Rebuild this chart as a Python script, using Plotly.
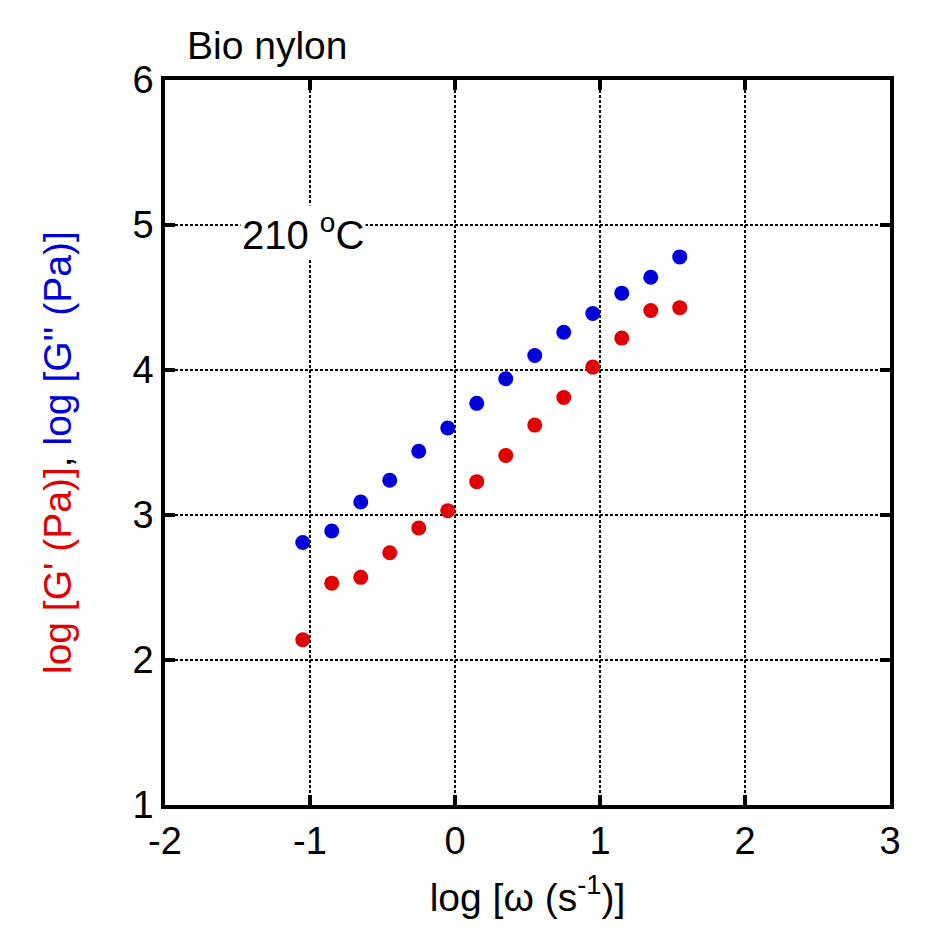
import plotly.graph_objects as go

log_omega = [-1.05, -0.85, -0.65, -0.45, -0.25, -0.05, 0.15, 0.35, 0.55, 0.75, 0.95, 1.15, 1.35, 1.55]
log_Gp = [2.14, 2.53, 2.57, 2.74, 2.91, 3.03, 3.23, 3.41, 3.62, 3.81, 4.02, 4.22, 4.41, 4.43]
log_Gpp = [2.81, 2.89, 3.09, 3.24, 3.44, 3.60, 3.77, 3.94, 4.10, 4.26, 4.39, 4.53, 4.64, 4.78]

x_ticks = [-2, -1, 0, 1, 2, 3]
y_ticks = [1, 2, 3, 4, 5, 6]

RED = "#e00000"
BLUE = "#0000d8"
FONT = "Liberation Sans, Arial, sans-serif"

fig = go.Figure()
fig.add_trace(go.Scatter(x=log_omega, y=log_Gpp, mode="markers",
                         marker=dict(color=BLUE, size=15), name="G''"))
fig.add_trace(go.Scatter(x=log_omega, y=log_Gp, mode="markers",
                         marker=dict(color=RED, size=15), name="G'"))

axis_common = dict(
    showline=True, linecolor="black", linewidth=3.5, mirror="allticks",
    ticks="inside", ticklen=10, tickwidth=3.5, tickcolor="black",
    showgrid=True, gridcolor="black", gridwidth=1.6, griddash="3px,2px",
    zeroline=False, tickfont=dict(family=FONT, size=38, color="black"),
)

fig.update_xaxes(range=[-2, 3], tickvals=x_ticks, ticktext=[str(v) for v in x_ticks],
                 title=dict(text="log [ω (s<sup>-1</sup>)]", font=dict(family=FONT, size=39, color="black"),
                            standoff=23),
                 **axis_common)
fig.update_yaxes(range=[1, 6], tickvals=y_ticks, ticktext=[str(v) for v in y_ticks],
                 **axis_common)

y_title = ("<span style='color:" + RED + "'>log [G' (Pa)]</span>, "
           "<span style='color:" + BLUE + "'>log [G'' (Pa)]</span>")
fig.add_annotation(x=0, y=0.4855, xref="paper", yref="paper", xanchor="center", yanchor="middle",
                   xshift=-108, text=y_title, textangle=-90, showarrow=False,
                   font=dict(family=FONT, size=39, color="black"))

fig.add_annotation(x=-1.048, y=4.95, xref="x", yref="y", text="210 <sup>o</sup>C",
                   showarrow=False, font=dict(family=FONT, size=40, color="black"),
                   bgcolor="white")
fig.add_annotation(x=0.0276, y=1.0, xref="paper", yref="paper", yanchor="middle", xanchor="left",
                   yshift=35, text="Bio nylon", showarrow=False,
                   font=dict(family=FONT, size=39, color="black"))

fig.update_layout(
    width=934, height=921,
    margin=dict(l=157, r=52, t=72, b=124),
    paper_bgcolor="white", plot_bgcolor="white",
    showlegend=False,
)

fig.write_html("out.html")
